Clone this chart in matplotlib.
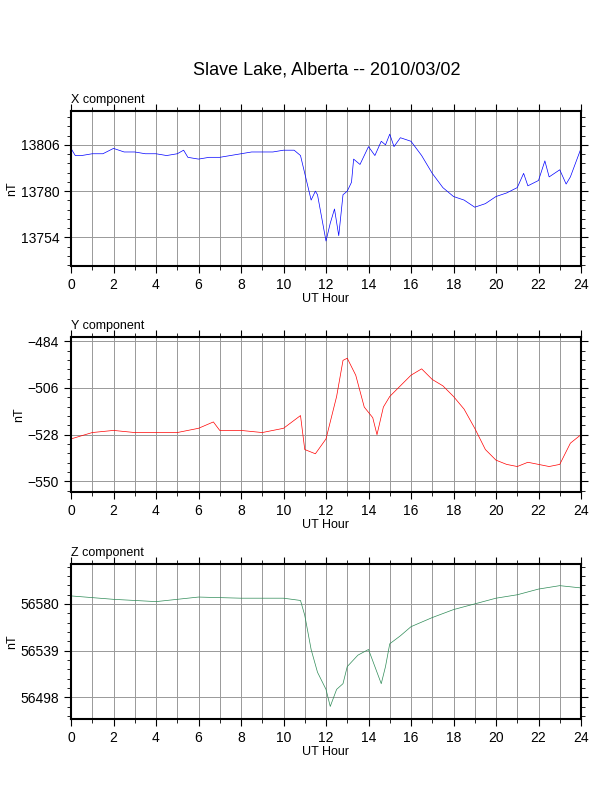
import matplotlib
matplotlib.use("Agg")
import matplotlib.pyplot as plt
from matplotlib.ticker import MultipleLocator

plt.rcParams['font.family'] = ['Liberation Sans', 'DejaVu Sans']

hx = [0,0.2,0.5,1,1.5,2,2.5,3,3.5,4,4.5,5,5.3,5.5,6,6.5,7,7.5,8,8.5,9,9.5,10,10.5,10.8,11,11.3,11.5,11.6,11.8,12,12.2,12.4,12.6,12.8,13,13.2,13.3,13.6,13.8,14,14.3,14.6,14.8,15,15.2,15.5,16,16.5,17,17.5,18,18.5,19,19.5,20,20.5,21,21.3,21.5,22,22.3,22.5,23,23.3,23.5,24]
vx = [13804,13800,13800,13801,13801,13804,13802,13802,13801,13801,13800,13801,13803,13799,13798,13799,13799,13800,13801,13802,13802,13802,13803,13803,13800,13790,13775,13780,13778,13765,13752,13762,13770,13755,13778,13780,13785,13798,13795,13800,13805,13800,13808,13806,13812,13805,13810,13808,13800,13790,13782,13777,13775,13771,13773,13777,13779,13782,13790,13783,13786,13797,13788,13792,13784,13788,13804]
hy = [0,1,2,3,4,5,6,6.7,7,8,9,10,10.8,11,11.5,12,12.5,12.8,13,13.4,13.8,14.2,14.4,14.7,15,15.5,16,16.5,17,17.5,18,18.5,19,19.5,20,20.5,21,21.5,22,22.5,23,23.5,24]
vy = [-530,-527,-526,-527,-527,-527,-525,-522,-526,-526,-527,-525,-519,-535,-537,-530,-510,-493,-492,-500,-515,-520,-528,-515,-510,-505,-500,-497,-502,-505,-510,-516,-525,-535,-540,-542,-543,-541,-542,-543,-542,-532,-528]
hz = [0,2,4,6,8,10,10.8,11,11.3,11.6,12,12.2,12.5,12.8,13,13.5,14,14.4,14.6,14.8,15,15.5,16,17,18,19,20,21,22,23,24]
vz = [56587,56584,56582,56586,56585,56585,56583,56570,56540,56520,56505,56490,56505,56510,56525,56535,56540,56520,56510,56525,56545,56552,56560,56568,56575,56580,56585,56588,56593,56596,56594]

panels = [
    ("X component", hx, vx, "blue", [13754,13780,13806], 26/5, (13738,13825), 111, 266),
    ("Y component", hy, vy, "red", [-550,-528,-506,-484], 22/5, (-555,-482), 337, 492),
    ("Z component", hz, vz, "#2e8b57", [56498,56539,56580], 41/5, (56479,56615), 564, 719),
]

W, H = 612, 792
fig = plt.figure(figsize=(W/100, H/100), dpi=100)
fig.text(327/W, 1-70/H, "Slave Lake, Alberta -- 2010/03/02", ha="center", va="center", fontsize=13)
for title, h, v, c, yt, ym, yl, top, bot in panels:
    ax = fig.add_axes([71/W, 1-bot/H, (581-71)/W, (bot-top)/H])
    ax.plot(h, v, color=c, lw=0.5)
    ax.set_xlim(0, 24)
    ax.set_ylim(*yl)
    ax.set_xticks(range(0, 25, 2))
    ax.set_xticks(range(0, 25), minor=True)
    ax.set_yticks(yt)
    ax.yaxis.set_minor_locator(MultipleLocator(ym, offset=yt[0] % ym))
    ax.grid(True, which="both", axis="x", color="#999999", lw=0.7)
    ax.grid(True, which="major", axis="y", color="#999999", lw=0.7)
    for s in ax.spines.values():
        s.set_linewidth(1.5)
    ax.tick_params(labelsize=10, direction="out", length=5)
    ax.tick_params(which="minor", length=3)
    ax.tick_params(top=True, right=True, which="both")
    ax.set_xlabel("UT Hour", fontsize=9, labelpad=1)
    ax.set_ylabel("nT", fontsize=9, labelpad=2)
    ax.set_title(title, fontsize=9, loc="left", pad=6)
fig.savefig("out.png", dpi=100)
